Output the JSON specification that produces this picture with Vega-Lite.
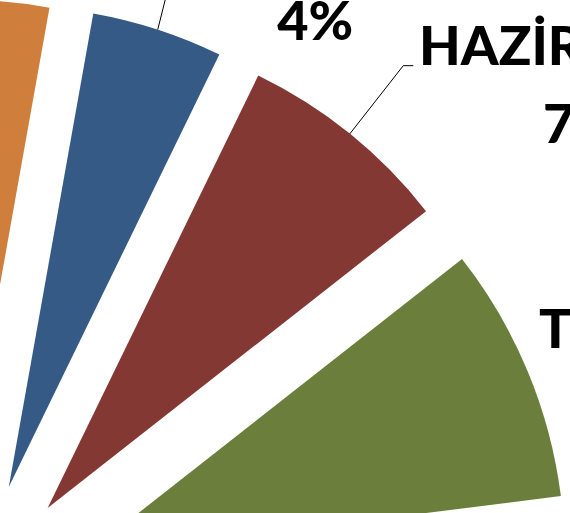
{
  "$schema": "https://vega.github.io/schema/vega-lite/v6.json",
  "width": 570,
  "height": 513,
  "autosize": "none",
  "padding": 0,
  "background": "white",
  "config": {"view": {"stroke": null}},
  "params": [
    {"name": "cx", "value": -29},
    {"name": "cy", "value": 603},
    {"name": "R", "value": 481},
    {"name": "pat", "value": 122},
    {"name": "a0", "value": -1.532399}
  ],
  "data": {
    "values": [
      {"no": 1, "ay": "OCAK", "pay": 0.065},
      {"no": 2, "ay": "ŞUBAT", "pay": 0.060},
      {"no": 3, "ay": "MART", "pay": 0.075},
      {"no": 4, "ay": "NİSAN", "pay": 0.072},
      {"no": 5, "ay": "MAYIS", "pay": 0.044},
      {"no": 6, "ay": "HAZİRAN", "pay": 0.072},
      {"no": 7, "ay": "TEMMUZ", "pay": 0.086},
      {"no": 8, "ay": "AĞUSTOS", "pay": 0.115},
      {"no": 9, "ay": "EYLÜL", "pay": 0.110},
      {"no": 10, "ay": "EKİM", "pay": 0.100},
      {"no": 11, "ay": "KASIM", "pay": 0.101},
      {"no": 12, "ay": "ARALIK", "pay": 0.100}
    ]
  },
  "transform": [
    {"stack": "pay", "groupby": [], "sort": [{"field": "no", "order": "ascending"}], "as": ["bas", "son"]}
  ],
  "layer": [
    {
      "mark": {
        "type": "arc",
        "radius": 481,
        "clip": true,
        "x": {"expr": "cx + pat*sin(a0 + PI*(datum.bas+datum.son))"},
        "y": {"expr": "cy - pat*cos(a0 + PI*(datum.bas+datum.son))"}
      },
      "encoding": {
        "theta": {"field": "bas", "type": "quantitative", "stack": null, "scale": {"domain": [0, 1], "range": [-1.532399, 4.750787]}},
        "theta2": {"field": "son"},
        "color": {
          "field": "ay",
          "type": "nominal",
          "legend": null,
          "scale": {
            "domain": ["OCAK", "ŞUBAT", "MART", "NİSAN", "MAYIS", "HAZİRAN", "TEMMUZ", "AĞUSTOS", "EYLÜL", "EKİM", "KASIM", "ARALIK"],
            "range": ["#4F81BD", "#C0504D", "#9BBB59", "#CF7E3B", "#365A86", "#843834", "#6B7E3B", "#5A4577", "#338296", "#B86D2F", "#95B3D7", "#D99694"]
          }
        }
      }
    },
    {
      "transform": [{"filter": "datum.ay === 'MAYIS'"}],
      "mark": {"type": "rule", "color": "#000000", "strokeWidth": 1},
      "encoding": {
        "x": {"value": {"expr": "cx + (pat+R)*sin(a0 + PI*(datum.bas+datum.son))"}},
        "y": {"value": {"expr": "cy - (pat+R)*cos(a0 + PI*(datum.bas+datum.son))"}},
        "x2": {"value": {"expr": "cx + (pat+R)*sin(a0 + PI*(datum.bas+datum.son)) + 18.5"}},
        "y2": {"value": {"expr": "cy - (pat+R)*cos(a0 + PI*(datum.bas+datum.son)) - 74"}}
      }
    },
    {
      "transform": [{"filter": "datum.ay === 'HAZİRAN'"}],
      "mark": {"type": "rule", "color": "#000000", "strokeWidth": 1},
      "encoding": {
        "x": {"value": {"expr": "cx + (pat+R)*sin(a0 + PI*(datum.bas+datum.son))"}},
        "y": {"value": {"expr": "cy - (pat+R)*cos(a0 + PI*(datum.bas+datum.son))"}},
        "x2": {"value": {"expr": "cx + (pat+R)*sin(a0 + PI*(datum.bas+datum.son)) + 53.44"}},
        "y2": {"value": {"expr": "cy - (pat+R)*cos(a0 + PI*(datum.bas+datum.son)) - 68.17"}}
      }
    },
    {
      "transform": [{"filter": "datum.ay === 'HAZİRAN'"}],
      "mark": {"type": "rule", "color": "#000000", "strokeWidth": 1},
      "encoding": {
        "x": {"value": {"expr": "cx + (pat+R)*sin(a0 + PI*(datum.bas+datum.son)) + 53.44"}},
        "y": {"value": {"expr": "cy - (pat+R)*cos(a0 + PI*(datum.bas+datum.son)) - 68.17"}},
        "x2": {"value": {"expr": "cx + (pat+R)*sin(a0 + PI*(datum.bas+datum.son)) + 63.44"}},
        "y2": {"value": {"expr": "cy - (pat+R)*cos(a0 + PI*(datum.bas+datum.son)) - 68.17"}}
      }
    },
    {
      "transform": [{"filter": "datum.ay === 'MAYIS'"}],
      "mark": {
        "type": "text", "font": "Lato", "fontWeight": 900, "fontSize": 54, "color": "#000000",
        "align": "center", "baseline": "alphabetic", "dx": 157.55, "dy": -67.67,
        "x": {"expr": "cx + (pat+R)*sin(a0 + PI*(datum.bas+datum.son))"},
        "y": {"expr": "cy - (pat+R)*cos(a0 + PI*(datum.bas+datum.son))"}
      },
      "encoding": {"text": {"field": "ay"}}
    },
    {
      "transform": [{"filter": "datum.ay === 'MAYIS'"}],
      "mark": {
        "type": "text", "font": "Lato", "fontWeight": 900, "fontSize": 54, "color": "#000000",
        "align": "center", "baseline": "alphabetic", "dx": 157.55, "dy": 10.33,
        "x": {"expr": "cx + (pat+R)*sin(a0 + PI*(datum.bas+datum.son))"},
        "y": {"expr": "cy - (pat+R)*cos(a0 + PI*(datum.bas+datum.son))"}
      },
      "encoding": {"text": {"field": "pay", "type": "quantitative", "format": ".0%"}}
    },
    {
      "transform": [{"filter": "datum.ay === 'HAZİRAN'"}],
      "mark": {
        "type": "text", "font": "Lato", "fontWeight": 900, "fontSize": 54, "color": "#000000",
        "align": "left", "baseline": "alphabetic", "dx": 69.14, "dy": -68.87,
        "x": {"expr": "cx + (pat+R)*sin(a0 + PI*(datum.bas+datum.son))"},
        "y": {"expr": "cy - (pat+R)*cos(a0 + PI*(datum.bas+datum.son))"}
      },
      "encoding": {"text": {"field": "ay"}}
    },
    {
      "transform": [{"filter": "datum.ay === 'HAZİRAN'"}],
      "mark": {
        "type": "text", "font": "Lato", "fontWeight": 900, "fontSize": 54, "color": "#000000",
        "align": "left", "baseline": "alphabetic", "dx": 193.14, "dy": 9.13,
        "x": {"expr": "cx + (pat+R)*sin(a0 + PI*(datum.bas+datum.son))"},
        "y": {"expr": "cy - (pat+R)*cos(a0 + PI*(datum.bas+datum.son))"}
      },
      "encoding": {"text": {"field": "pay", "type": "quantitative", "format": ".0%"}}
    },
    {
      "transform": [{"filter": "datum.ay === 'TEMMUZ'"}],
      "mark": {
        "type": "text", "font": "Lato", "fontWeight": 900, "fontSize": 54, "color": "#000000",
        "align": "left", "baseline": "alphabetic", "dx": 11.43, "dy": -22.9,
        "x": {"expr": "cx + (pat+R)*sin(a0 + PI*(datum.bas+datum.son))"},
        "y": {"expr": "cy - (pat+R)*cos(a0 + PI*(datum.bas+datum.son))"}
      },
      "encoding": {"text": {"field": "ay"}}
    },
    {
      "transform": [{"filter": "datum.ay === 'TEMMUZ'"}],
      "mark": {
        "type": "text", "font": "Lato", "fontWeight": 900, "fontSize": 54, "color": "#000000",
        "align": "left", "baseline": "alphabetic", "dx": 92.43, "dy": 55.1,
        "x": {"expr": "cx + (pat+R)*sin(a0 + PI*(datum.bas+datum.son))"},
        "y": {"expr": "cy - (pat+R)*cos(a0 + PI*(datum.bas+datum.son))"}
      },
      "encoding": {"text": {"field": "pay", "type": "quantitative", "format": ".0%"}}
    }
  ]
}
